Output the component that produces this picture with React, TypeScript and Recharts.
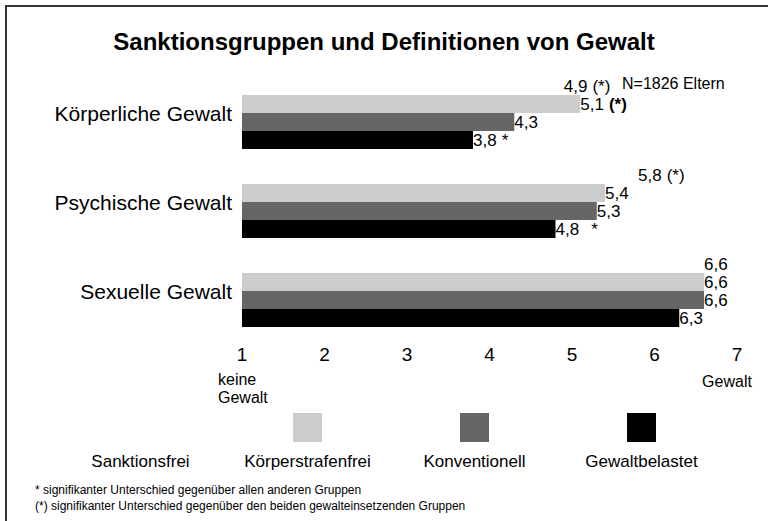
import { Bar, BarChart, LabelList, XAxis, YAxis } from "recharts";

const categories = ["Körperliche Gewalt", "Psychische Gewalt", "Sexuelle Gewalt"];
const seriesNames = ["Sanktionsfrei", "Körperstrafenfrei", "Konventionell", "Gewaltbelastet"];
const sanktionsfrei = [4.9, 5.8, 6.6];
const koerperstrafenfrei = [5.1, 5.4, 6.6];
const konventionell = [4.3, 5.3, 6.6];
const gewaltbelastet = [3.8, 4.8, 6.3];
// significance markers next to the value labels
const sanktionsfreiSig = ["(*)", "(*)", ""];
const koerperstrafenfreiSig = ["(*)", "", ""];
const konventionellSig = ["", "", ""];
const gewaltbelastetSig = ["*", "*", ""];
const ticks = [1, 2, 3, 4, 5, 6, 7];

const colors = ["#ffffff", "#cccccc", "#666666", "#000000"];
const FONT = "'Liberation Sans', Arial, sans-serif";

const data = categories.map((c, i) => ({
  name: c,
  s0: sanktionsfrei[i],
  s1: koerperstrafenfrei[i],
  s2: konventionell[i],
  s3: gewaltbelastet[i],
  m0: sanktionsfreiSig[i],
  m1: koerperstrafenfreiSig[i],
  m2: konventionellSig[i],
  m3: gewaltbelastetSig[i],
}));

const fmt = (v: number) => v.toFixed(1).replace(".", ",");

const makeLabel = (idx: number) => (props: any) => {
  const { x, y, width, height, index } = props;
  const row: any = data[index];
  const marker = row["m" + idx];
  return (
    <text
      x={x + width}
      y={y + height / 2}
      dy="0.35em"
      fontSize={17}
      fontFamily={FONT}
      fill="#000"
    >
      {fmt(row["s" + idx])}
      {marker ? (
        <tspan fontWeight={idx === 1 ? "bold" : "normal"} dx={marker === "*" && index === 1 ? 12 : 5}>
          {marker}
        </tspan>
      ) : null}
    </text>
  );
};

const XTick = (props: any) => {
  const { x, y, payload } = props;
  return (
    <g>
      <text x={x} y={y} dy="0.71em" textAnchor="middle" fontSize={19} fontFamily={FONT} fill="#000">
        {payload.value}
      </text>
      {payload.value === 1 && (
        <text x={x - 24} y={y + 26} fontSize={16} fontFamily={FONT} fill="#000">
          <tspan x={x - 24} dy="0.71em">keine</tspan>
          <tspan x={x - 24} dy="1.1em">Gewalt</tspan>
        </text>
      )}
      {payload.value === 7 && (
        <text x={x - 10} y={y + 28} dy="0.71em" textAnchor="middle" fontSize={16} fontFamily={FONT} fill="#000">
          Gewalt
        </text>
      )}
    </g>
  );
};

export default function App() {
  return (
    <div
      style={{
        position: "absolute",
        left: 0,
        top: 0,
        width: 768,
        height: 521,
        overflow: "hidden",
        background: "#fff",
        fontFamily: FONT,
      }}
    >
      <div
        style={{
          position: "absolute",
          left: 5,
          top: 5,
          width: 900,
          height: 700,
          border: "2px solid #333",
        }}
      />
      <div
        style={{
          position: "absolute",
          left: 0,
          top: 28,
          width: 768,
          textAlign: "center",
          fontSize: 24,
          fontWeight: "bold",
        }}
      >
        Sanktionsgruppen und Definitionen von Gewalt
      </div>
      <div style={{ position: "absolute", left: 622, top: 75, fontSize: 16 }}>N=1826 Eltern</div>
      <div style={{ position: "absolute", left: 0, top: 0 }}>
        <BarChart
          width={768}
          height={521}
          data={data}
          layout="vertical"
          margin={{ top: 69, right: 31, bottom: 125, left: 0 }}
          barCategoryGap={8}
          barGap={0}
        >
          <XAxis
            type="number"
            domain={[1, 7]}
            ticks={ticks}
            height={60}
            axisLine={false}
            tickLine={false}
            tickSize={0}
            tickMargin={12}
            tick={<XTick />}
            interval={0}
          />
          <YAxis
            type="category"
            dataKey="name"
            width={242}
            axisLine={false}
            tickLine={false}
            tickSize={0}
            tickMargin={10}
            tick={{ fontSize: 21, fill: "#000", fontFamily: FONT }}
          />
          {seriesNames.map((n, i) => (
            <Bar key={n} dataKey={"s" + i} name={n} fill={colors[i]} isAnimationActive={false}>
              <LabelList dataKey={"s" + i} content={makeLabel(i)} />
            </Bar>
          ))}
        </BarChart>
      </div>
      <div style={{ position: "absolute", top: 413, left: 57, display: "flex" }}>
        {seriesNames.map((n, i) => (
          <div key={n} style={{ width: 167, display: "flex", flexDirection: "column", alignItems: "center" }}>
            <div style={{ width: 29, height: 29, background: colors[i] }} />
            <div style={{ marginTop: 10, fontSize: 17, color: "#000" }}>{n}</div>
          </div>
        ))}
      </div>
      <div style={{ position: "absolute", left: 35, top: 482, fontSize: 12, lineHeight: "16px" }}>
        <div>* signifikanter Unterschied gegenüber allen anderen Gruppen</div>
        <div>(*) signifikanter Unterschied gegenüber den beiden gewalteinsetzenden Gruppen</div>
      </div>
    </div>
  );
}
